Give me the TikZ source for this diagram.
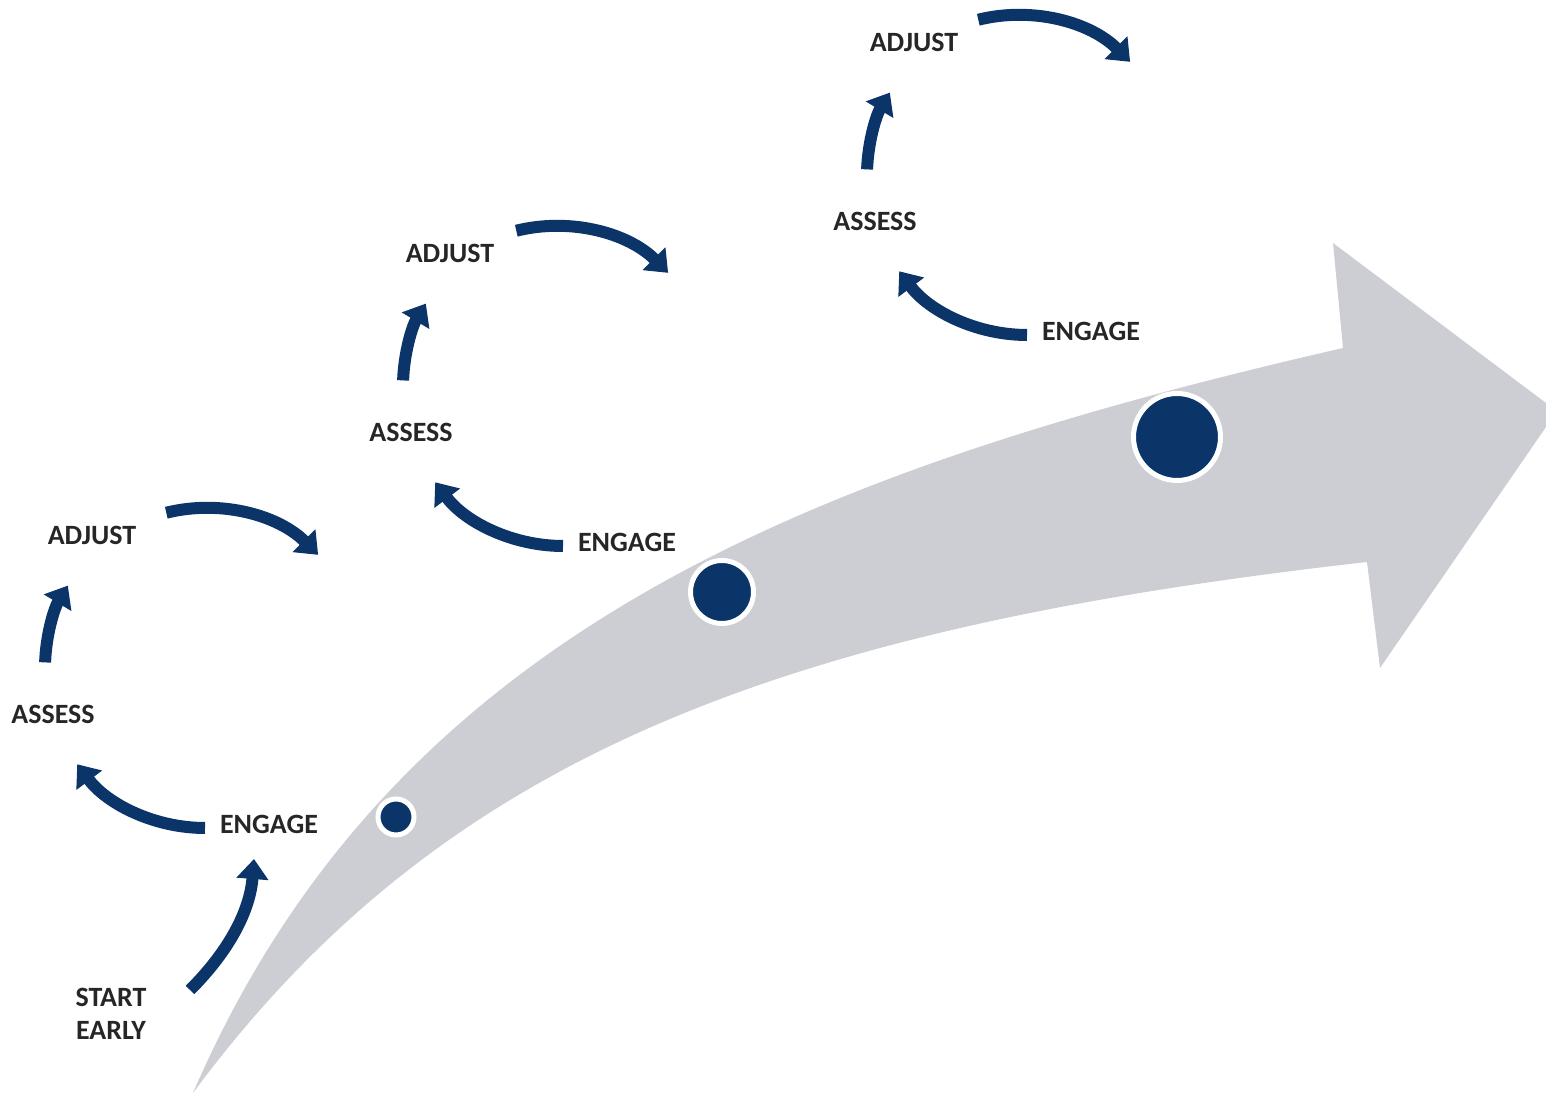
\documentclass[tikz,border=0pt]{standalone}
\usepackage{fontspec}
\setmainfont{Carlito}
\usepackage{tikz}
\usetikzlibrary{arrows.meta}

\definecolor{navy}{HTML}{0B3468}
\definecolor{band}{HTML}{CDCED3}
\definecolor{ink}{HTML}{262626}

\begin{document}
\begin{tikzpicture}[x=0.02cm,y=0.02cm]
                \tikzstyle{stage} = [font=\bfseries\fontsize{15.9}{18.8}\selectfont, text=ink, inner sep=0pt, align=center]
                \tikzstyle{flow} = [navy, line width=0.24cm, -{Triangle[width=0.62cm,length=0.4cm]}]
                \tikzstyle{dot} = [circle, fill=navy, draw=white, line width=0.1cm, inner sep=0pt]
                \useasboundingbox (0,0) rectangle (1546,1095);

                % grey progress arrow
                \fill [band] (193,2) .. controls (391,461) and (807,624) .. (1343,747)
                    -- (1333,852) -- (1546,692) -- (1546,668) -- (1380,427) -- (1367,533)
                    .. controls (783,467) and (443,340) .. (193,2) -- cycle;

                \node (dot1) [dot, minimum size=0.72cm] at (396,278) {};
                \node (dot2) [dot, minimum size=1.26cm] at (722,503) {};
                \node (dot3) [dot, minimum size=1.74cm] at (1177,658) {};

                \node (start) [stage] at (111,81) {START\\EARLY};
                \coordinate (go) at (190,105);
                \draw [flow] (go) .. controls (230,145) and (250,185) .. (254,236);

                % engage -> assess -> adjust, three times
                \foreach \i/\dx/\dy/\cx in {1/0/0/0, 2/358/282/-8, 3/822/493/-10} {
                    \begin{scope}[shift={(\dx,\dy)}]
                        \node (eng\i) [stage] at (269,271) {ENGAGE};
                        \node (ass\i) [stage] at (53,381) {ASSESS};
                        \node (adj\i) [stage] at (92,560) {ADJUST};
                        \coordinate (c\i) at (205,427);
                        \coordinate (d\i) at (205+\cx,427);
                        \draw [flow] (c\i) ++(270:160) arc[start angle=270, end angle=217, radius=160];
                        \draw [flow] (c\i) ++(178:160) arc[start angle=178, end angle=149, radius=160];
                        \draw [flow] (d\i) ++(104:160) arc[start angle=104, end angle=45, radius=160];
                    \end{scope}
                }

            \end{tikzpicture}
\end{document}
